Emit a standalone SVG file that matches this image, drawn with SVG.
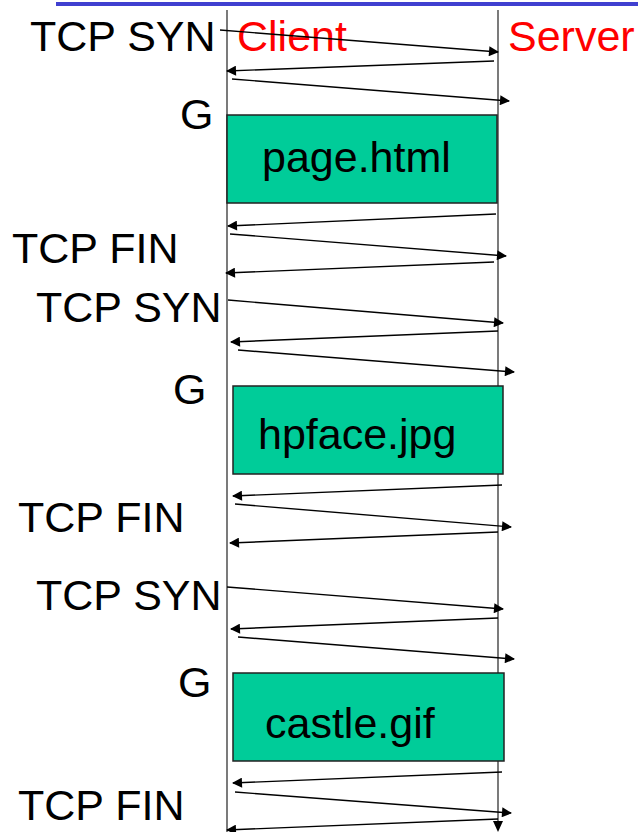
<svg xmlns="http://www.w3.org/2000/svg" width="638" height="832" viewBox="0 0 638 832">
<style>
.lbl{font-family:"Liberation Sans",Arial,sans-serif;font-size:43px;fill:#000}
.red{fill:#ff0000}
.life{stroke:#333;stroke-width:1.3;fill:none}
.msg{stroke:#000;stroke-width:1.4;fill:none;marker-end:url(#ah)}
.box{fill:#00cc99;stroke:#222;stroke-width:1.5}
</style>
<defs>
<marker id="ah" viewBox="0 0 10 10" refX="9" refY="5" markerWidth="11" markerHeight="10" markerUnits="userSpaceOnUse" orient="auto">
<path d="M0,0 L10,5 L0,10 z" fill="#000"/>
</marker>
</defs>
<rect x="56" y="2" width="582" height="4" fill="#4040d0"/>
<g id="client-lifeline"><line class="life" x1="227" y1="10" x2="227" y2="832"/></g>
<g id="server-lifeline"><line class="life" x1="498" y1="10" x2="498" y2="822"/><path d="M493,821 L503,821 L498,832 z" fill="#000"/></g>
<g id="labels">
<text class="lbl" x="30" y="51">TCP SYN</text>
<text class="lbl red" x="237" y="51">Client</text>
<text class="lbl red" x="508" y="51">Server</text>
<text class="lbl" x="180" y="129">G</text>
<text class="lbl" x="12" y="263">TCP FIN</text>
<text class="lbl" x="36" y="322">TCP SYN</text>
<text class="lbl" x="173" y="404">G</text>
<text class="lbl" x="18" y="532">TCP FIN</text>
<text class="lbl" x="36" y="610">TCP SYN</text>
<text class="lbl" x="178" y="697">G</text>
<text class="lbl" x="18" y="820">TCP FIN</text>
</g>
<g id="page-html"><rect class="box" x="227" y="115" width="270" height="88"/><text class="lbl" x="262" y="172">page.html</text></g>
<g id="hpface-jpg"><rect class="box" x="233" y="386" width="270" height="88"/><text class="lbl" x="258" y="449">hpface.jpg</text></g>
<g id="castle-gif"><rect class="box" x="233" y="673" width="271" height="88"/><text class="lbl" x="265" y="738">castle.gif</text></g>
<g id="connectors">
<line class="msg" x1="220" y1="30" x2="498" y2="52"/>
<line class="msg" x1="494" y1="61" x2="227" y2="71"/>
<line class="msg" x1="232" y1="79" x2="509" y2="101"/>
<line class="msg" x1="496" y1="214" x2="228" y2="226"/>
<line class="msg" x1="230" y1="234" x2="506" y2="256"/>
<line class="msg" x1="494" y1="262" x2="226" y2="273"/>
<line class="msg" x1="228" y1="300" x2="503" y2="323"/>
<line class="msg" x1="498" y1="331" x2="231" y2="342"/>
<line class="msg" x1="238" y1="350" x2="514" y2="372"/>
<line class="msg" x1="502" y1="485" x2="233" y2="496"/>
<line class="msg" x1="235" y1="504" x2="511" y2="527"/>
<line class="msg" x1="498" y1="532" x2="230" y2="543"/>
<line class="msg" x1="227" y1="587" x2="503" y2="609"/>
<line class="msg" x1="498" y1="618" x2="231" y2="629"/>
<line class="msg" x1="238" y1="637" x2="514" y2="659"/>
<line class="msg" x1="502" y1="772" x2="233" y2="783"/>
<line class="msg" x1="235" y1="792" x2="511" y2="813"/>
<line class="msg" x1="498" y1="819" x2="227" y2="830"/>
</g>
</svg>
